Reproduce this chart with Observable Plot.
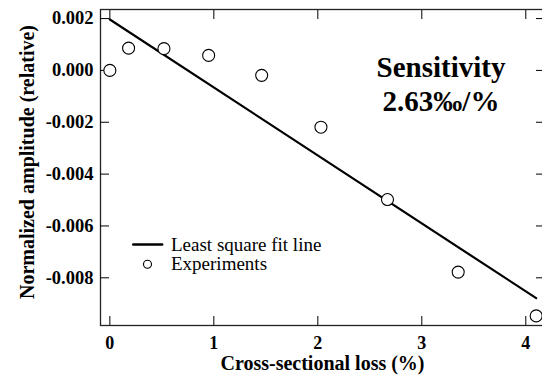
<!DOCTYPE html>
<html><head><meta charset="utf-8">
<script src="https://cdn.jsdelivr.net/npm/d3@7"></script>
<script src="https://cdn.jsdelivr.net/npm/@observablehq/plot@0.6"></script>
<style>body{margin:0;background:#fff}</style>
</head><body><div id="chart"></div>
<script>
const lossPct = [0, 0.18, 0.52, 0.95, 1.46, 2.03, 2.67, 3.35, 4.10];
const amplitude = [0, 0.00086, 0.00084, 0.00058, -0.00019, -0.00219, -0.00498, -0.00778, -0.00947];
const xTicks = [0, 1, 2, 3, 4];
const xTickLabels = ["0", "1", "2", "3", "4"];
const yTicks = [0.002, 0, -0.002, -0.004, -0.006, -0.008];
const yTickLabels = ["0.002", "0.000", "-0.002", "-0.004", "-0.006", "-0.008"];
const xTitle = "Cross-sectional loss (%)";
const yTitle = "Normalized amplitude (relative)";
const annotation = ["Sensitivity", "2.63‰/%"];
const legendLabels = ["Least square fit line", "Experiments"];

const points = lossPct.map((x, i) => ({x, y: amplitude[i]}));
const lineShape = {draw(context, l) { context.moveTo(0, 0); context.lineTo(0, -l); }};
const serif = "'Liberation Serif', 'Times New Roman', serif";

const chart = Plot.plot({
  width: 542, height: 378,
  marginLeft: 100, marginTop: 9, marginBottom: 53, marginRight: -2,
  style: {fontFamily: serif, background: "white", color: "black"},
  x: {domain: [-0.09, 4.18], axis: null},
  y: {domain: [-0.00984, 0.00235], axis: null},
  marks: [
    Plot.frame({stroke: "#222", strokeWidth: 1.3}),
    Plot.axisY({ticks: yTicks, tickSize: 0, tickPadding: 7, tickFormat: d => yTickLabels[yTicks.indexOf(d)], fontSize: 18.5, fontWeight: "bold", label: null}),
    Plot.axisY({ticks: yTicks, tickSize: -9, fill: "none", label: null}),
    Plot.axisY({anchor: "right", ticks: yTicks, tickSize: -9, fill: "none", label: null}),
    Plot.axisX({ticks: xTicks, tickSize: 0, tickPadding: 11, tickFormat: d => xTickLabels[xTicks.indexOf(d)], fontSize: 18, fontWeight: "bold", label: null}),
    Plot.axisX({ticks: xTicks, tickSize: -9, fill: "none", label: null}),
    Plot.axisX({anchor: "top", ticks: xTicks, tickSize: -9, fill: "none", label: null}),
    Plot.text([yTitle], {frameAnchor: "left", rotate: -90, dx: -73, dy: -5.5, textAnchor: "middle", lineAnchor: "middle", fontSize: 20, fontWeight: "bold"}),
    Plot.text([xTitle], {frameAnchor: "bottom", dy: 38.5, textAnchor: "middle", lineAnchor: "middle", fontSize: 20, fontWeight: "bold"}),
    Plot.linearRegressionY(points, {x: "x", y: "y", ci: 0, stroke: "black", strokeWidth: 2.2}),
    Plot.dot(points, {x: "x", y: "y", r: 6, fill: "white", stroke: "black", strokeWidth: 1.1}),
    Plot.text([annotation.join("\n")], {frameAnchor: "top-left", dx: 340.5, dy: 43, textAnchor: "middle", lineAnchor: "top", lineHeight: 1.17, fontSize: 29, fontWeight: "bold"}),
    Plot.vector([legendLabels[0]], {frameAnchor: "top-left", dx: 32.7, dy: 235, length: 29, rotate: 90, anchor: "start", shape: lineShape, stroke: "black", strokeWidth: 2.4}),
    Plot.dot([legendLabels[1]], {frameAnchor: "top-left", dx: 47, dy: 254.7, r: 4, fill: "white", stroke: "black", strokeWidth: 1.1}),
    Plot.text([legendLabels.join("\n")], {frameAnchor: "top-left", dx: 70.5, dy: 228, textAnchor: "start", lineAnchor: "top", lineHeight: 1.0, fontSize: 19})
  ]
});
document.getElementById("chart").appendChild(chart);
</script>
</body></html>
